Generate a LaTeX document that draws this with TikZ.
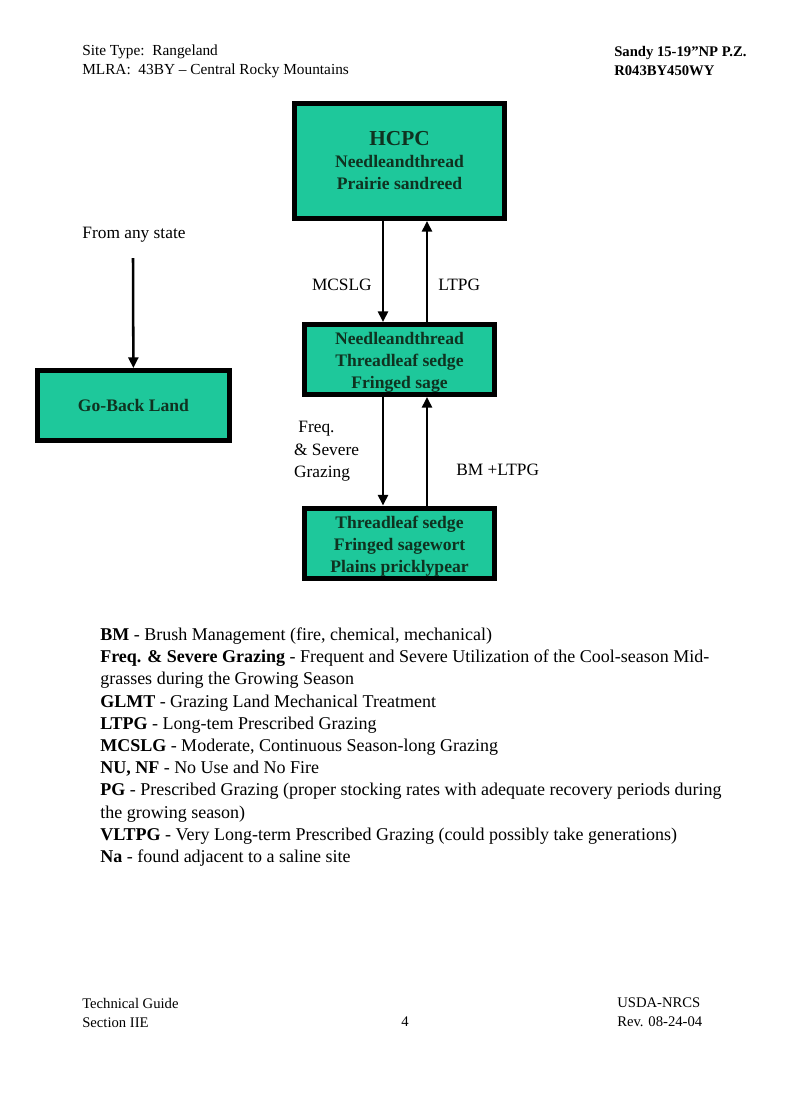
\documentclass[tikz,border=0pt]{standalone}
\usepackage{fontspec}
\setmainfont{Liberation Serif}
\usetikzlibrary{arrows.meta,positioning,calc}
\definecolor{stategreen}{RGB}{30,200,155}
\definecolor{statetext}{RGB}{15,50,32}
\begin{document}
\begin{tikzpicture}[x=0.75pt,y=-0.75pt,
		statebox/.style={draw=black,fill=stategreen,line width=3.75pt,
			text=statetext,align=center,inner sep=0pt,
			font=\bfseries\fontsize{13.2}{16.5}\selectfont},
		flow/.style={line width=1.9pt,-{Triangle[length=8pt,width=7.5pt]}},
		lbl/.style={inner sep=0pt,font=\fontsize{13}{16.6}\selectfont},
		pagetext/.style={inner sep=0pt,anchor=west,align=left,font=\fontsize{11.5}{14.25}\selectfont}
	]
	\useasboundingbox[fill=white] (0,0) rectangle (800,1108);
	% header and footer
	\node[pagetext] (sitetype) at (82,61.5) {Site Type:\ \ Rangeland\\MLRA:\ \ 43BY -- Central Rocky Mountains};
	\node[pagetext,font=\bfseries\fontsize{11}{14.25}\selectfont] (siteid) at (614,61.5) {Sandy 15-19”NP P.Z.\\R043BY450WY};
	\node[pagetext,font=\fontsize{11}{14.25}\selectfont] (guide) at (82,1012.5) {Technical Guide\\Section IIE};
	\node[pagetext,anchor=center,font=\fontsize{11}{14.25}\selectfont] (pagenum) at (405,1022) {4};
	\node[pagetext,font=\fontsize{11}{14.25}\selectfont] (rev) at (617,1012.5) {USDA-NRCS\\Rev. 08-24-04};
	% states
	\node[statebox,minimum width=157.5pt,minimum height=86.25pt] (hcpc) at (399.5,161)
		{{\fontsize{16}{20}\selectfont HCPC}\\Needleandthread\\Prairie sandreed};
	\node[statebox,minimum width=142.5pt,minimum height=52.5pt] (nts) at (399.5,359.5)
		{\rule{0pt}{14pt}Needleandthread\\Threadleaf sedge\\Fringed sage};
	\node[statebox,minimum width=142.5pt,minimum height=52.5pt] (tsf) at (399.5,543)
		{\rule{0pt}{14pt}Threadleaf sedge\\Fringed sagewort\\Plains pricklypear};
	\node[statebox,minimum width=144pt,minimum height=52.5pt] (goback) at (133.5,405.5) {Go-Back Land};
	\node[lbl] (fromany) at (134,235) {From any state};
	\coordinate (anystart) at (133,258);
	% transitions
	\draw[flow] ($(hcpc.south)+(-16.5,0)$) -- ($(nts.north)+(-16.5,0)$)
		node[lbl,pos=0.63,left=7.5pt] {MCSLG};
	\draw[flow] ($(nts.north)+(27.5,0)$) -- ($(hcpc.south)+(27.5,0)$)
		node[lbl,pos=0.37,right=7.5pt] {LTPG};
	\draw[flow] ($(nts.south)+(-16.5,0)$) -- ($(tsf.north)+(-16.5,0)$)
		node[lbl,pos=0.5,left=17pt,align=left] {\ Freq.\\\& Severe\\Grazing};
	\draw[flow] ($(tsf.north)+(27.5,0)$) -- ($(nts.south)+(27.5,0)$)
		node[lbl,pos=0.33,right=21pt] {BM +LTPG};
	\draw[flow] (anystart) -- (goback);
	% legend
	\node[lbl,anchor=west,align=left,font=\fontsize{13.5}{16.65}\selectfont] (legend) at (100,747) {%
		\textbf{BM} - Brush Management (fire, chemical, mechanical)\\
		\textbf{Freq. \& Severe Grazing} - Frequent and Severe Utilization of the Cool-season Mid-\\
		grasses during the Growing Season\\
		\textbf{GLMT} - Grazing Land Mechanical Treatment\\
		\textbf{LTPG} - Long-tem Prescribed Grazing\\
		\textbf{MCSLG} - Moderate, Continuous Season-long Grazing\\
		\textbf{NU, NF} - No Use and No Fire\\
		\textbf{PG} - Prescribed Grazing (proper stocking rates with adequate recovery periods during\\
		the growing season)\\
		\textbf{VLTPG} - Very Long-term Prescribed Grazing (could possibly take generations)\\
		\textbf{Na} - found adjacent to a saline site};
\end{tikzpicture}
\end{document}
